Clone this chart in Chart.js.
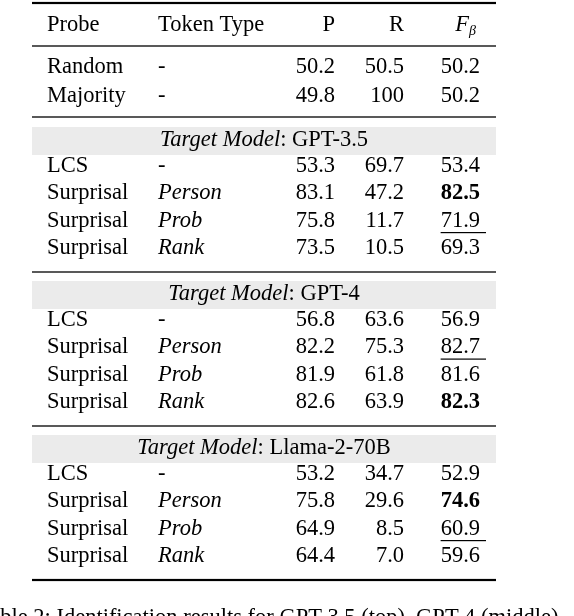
<!DOCTYPE html>
<html>
<head>
<meta charset="utf-8">
<script src="https://cdn.jsdelivr.net/npm/chart.js@4/dist/chart.umd.min.js"></script>
<style>
  html, body { margin: 0; padding: 0; background: #fff; }
  #wrap { width: 574px; height: 616px; overflow: hidden; }
</style>
</head>
<body>
<div id="wrap"><canvas id="tbl" width="574" height="616"></canvas></div>
<script>
// table contents
const headers = ["Probe", "Token Type", "P", "R", "F"];
const baseProbes = ["Random", "Majority"];
const baseP = [50.2, 49.8];
const baseR = [50.5, 100];
const baseF = [50.2, 50.2];

const groups = ["GPT-3.5", "GPT-4", "Llama-2-70B"];
const probes = ["LCS", "Surprisal", "Surprisal", "Surprisal"];
const tokenTypes = ["-", "Person", "Prob", "Rank"];
const pValues = [[53.3, 83.1, 75.8, 73.5], [56.8, 82.2, 81.9, 82.6], [53.2, 75.8, 64.9, 64.4]];
const rValues = [[69.7, 47.2, 11.7, 10.5], [63.6, 75.3, 61.8, 63.9], [34.7, 29.6, 8.5, 7.0]];
const fValues = [[53.4, 82.5, 71.9, 69.3], [56.9, 82.7, 81.6, 82.3], [52.9, 74.6, 60.9, 59.6]];
// index of best (bold) and second best (underlined) per group
const bestIdx = [1, 3, 1];
const secondIdx = [2, 1, 2];

const FONT = '"Liberation Serif", "DejaVu Serif", serif';
const SIZE = "22.5px ";

const tablePlugin = {
  id: "tablePlugin",
  afterDraw(chart) {
    const ctx = chart.ctx;
    const sx = chart.scales.x, sy = chart.scales.y;
    const X = v => sx.getPixelForValue(v);
    const Y = v => sy.getPixelForValue(v);
    const left = 32, right = 496;
    const colX = [47, 158, 335, 404, 480];

    function rule(y, w) {
      ctx.fillStyle = "#000";
      ctx.fillRect(X(left), Y(y) - w / 2, X(right) - X(left), w);
    }
    function text(s, col, y, opts) {
      opts = opts || {};
      ctx.font = (opts.italic ? "italic " : "") + (opts.bold ? "bold " : "") + SIZE + FONT;
      ctx.fillStyle = "#000";
      ctx.textBaseline = "middle";
      ctx.textAlign = col >= 2 ? "right" : "left";
      const x = X(colX[col]);
      ctx.fillText(s, x, Y(y));
      if (opts.underline) {
        const w = ctx.measureText(s).width;
        ctx.fillRect(x - w, Y(y) + 11, w + 6, 1.2);
      }
    }

    rule(3, 2.2);
    // header
    text(headers[0], 0, 25);
    text(headers[1], 1, 25);
    text(headers[2], 2, 25);
    text(headers[3], 3, 25);
    ctx.font = "italic " + SIZE + FONT;
    ctx.textAlign = "right";
    ctx.fillText("F", X(469), Y(25));
    ctx.font = "italic 14px " + FONT;
    ctx.textAlign = "left";
    ctx.fillText("β", X(469), Y(31));
    rule(46, 1.3);

    const baseY = [67, 96];
    baseProbes.forEach((p, i) => {
      text(p, 0, baseY[i]);
      text("-", 1, baseY[i]);
      text(baseP[i].toFixed(1), 2, baseY[i]);
      text(String(baseR[i] === 100 ? "100" : baseR[i].toFixed(1)), 3, baseY[i]);
      text(baseF[i].toFixed(1), 4, baseY[i]);
    });

    const ruleY = [117, 272, 426];
    const bandTop = [127, 281, 435];
    ruleY.forEach(r => rule(r, 1.3));
    groups.forEach((g, gi) => {
      const bt = bandTop[gi];
      ctx.fillStyle = "#ebebeb";
      ctx.fillRect(X(left), Y(bt), X(right) - X(left), Y(bt + 28) - Y(bt));
      // centered title: italic "Target Model" + ": name"
      ctx.font = "italic " + SIZE + FONT;
      const a = "Target Model";
      const wa = ctx.measureText(a).width;
      ctx.font = SIZE + FONT;
      const b = ": " + g;
      const wb = ctx.measureText(b).width;
      const cx = (X(left) + X(right)) / 2 - (wa + wb) / 2;
      ctx.fillStyle = "#000";
      ctx.textAlign = "left";
      ctx.textBaseline = "middle";
      ctx.font = "italic " + SIZE + FONT;
      ctx.fillText(a, cx, Y(bt + 13));
      ctx.font = SIZE + FONT;
      ctx.fillText(b, cx + wa, Y(bt + 13));

      probes.forEach((p, i) => {
        const y = bt + 39 + i * 27.5;
        text(p, 0, y);
        text(tokenTypes[i], 1, y, { italic: i > 0 });
        text(pValues[gi][i].toFixed(1), 2, y);
        text(rValues[gi][i].toFixed(1), 3, y);
        text(fValues[gi][i].toFixed(1), 4, y, {
          bold: bestIdx[gi] === i,
          underline: secondIdx[gi] === i
        });
      });
    });
    rule(580, 2.2);

    // caption (cut off by page edge)
    ctx.font = SIZE + FONT;
    ctx.textAlign = "left";
    ctx.textBaseline = "alphabetic";
    ctx.fillText("Table 2: Identification results for GPT-3.5 (top), GPT-4 (middle)", X(-22), Y(624));
  }
};

new Chart(document.getElementById("tbl"), {
  type: "scatter",
  data: { datasets: [{ data: [] }] },
  options: {
    responsive: false,
    animation: false,
    layout: { padding: 0 },
    plugins: { legend: { display: false }, tooltip: { enabled: false } },
    scales: {
      x: { type: "linear", min: 0, max: 574, display: false },
      y: { type: "linear", min: 0, max: 616, reverse: true, display: false }
    }
  },
  plugins: [tablePlugin]
});
</script>
</body>
</html>
